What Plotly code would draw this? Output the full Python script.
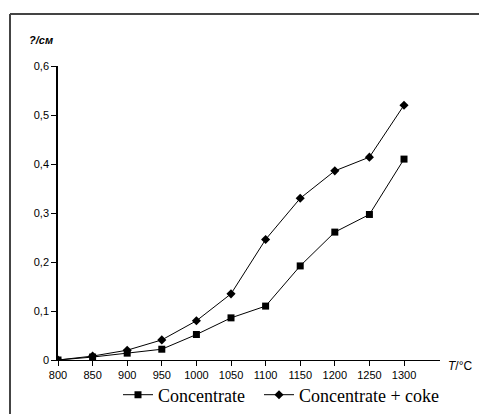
import plotly.graph_objects as go

temps = [800, 850, 900, 950, 1000, 1050, 1100, 1150, 1200, 1250, 1300]
concentrate = [0.0, 0.006, 0.014, 0.022, 0.052, 0.086, 0.11, 0.192, 0.261, 0.297, 0.41]
concentrate_coke = [0.0, 0.008, 0.02, 0.041, 0.08, 0.135, 0.246, 0.33, 0.386, 0.414, 0.52]
y_ticks = [0, 0.1, 0.2, 0.3, 0.4, 0.5, 0.6]
y_ticktext = ["0", "0,1", "0,2", "0,3", "0,4", "0,5", "0,6"]
x_ticks = [800, 850, 900, 950, 1000, 1050, 1100, 1150, 1200, 1250, 1300]

fig = go.Figure()
fig.add_trace(go.Scatter(
    x=temps, y=concentrate, name="Concentrate", mode="lines+markers",
    line=dict(color="black", width=1),
    marker=dict(symbol="square", size=7, color="black"),
    legend="legend",
))
fig.add_trace(go.Scatter(
    x=temps, y=concentrate_coke, name="Concentrate + coke", mode="lines+markers",
    line=dict(color="black", width=1),
    marker=dict(symbol="diamond", size=7, color="black"),
    legend="legend2",
))

# body margin is removed by the post script, so figure pixels = window pixels
W, H = 479, 414
PL, PR, PT, PB = 58, 440, 66, 360  # plot area in window pixels
ml, mr, mt, mb = PL, W - PR, PT, H - PB
pw, ph = W - ml - mr, H - mt - mb

def px(x):
    return (x - ml) / pw

def py(y):
    return (H - mb - y) / ph

tick_font = dict(family="Liberation Sans Narrow, Liberation Sans", size=11, color="black")
legend_common = dict(
    orientation="h", xref="container", yref="container",
    y=1 - 395 / H, xanchor="left", yanchor="middle",
    font=dict(family="Liberation Serif", size=18, color="black"),
    bgcolor="rgba(0,0,0,0)", itemwidth=30,
)

fig.update_layout(
    width=W, height=H,
    margin=dict(l=ml, r=mr, t=mt, b=mb, pad=0, autoexpand=False),
    paper_bgcolor="white", plot_bgcolor="white",
    showlegend=True,
    modebar=dict(bgcolor="rgba(0,0,0,0)", color="rgba(0,0,0,0)",
                 activecolor="rgba(0,0,0,0)"),
    legend=dict(x=118 / W, **legend_common),
    legend2=dict(x=259 / W, **legend_common),
    xaxis=dict(
        range=[800, 1352], tickvals=x_ticks, ticks="outside", ticklen=5,
        tickcolor="black", showline=True, linecolor="black", linewidth=1,
        showgrid=False, zeroline=False, tickfont=tick_font,
    ),
    yaxis=dict(
        range=[0, 0.6], tickvals=y_ticks, ticktext=y_ticktext, ticks="outside",
        ticklen=5, tickcolor="black", showline=True, linecolor="black",
        linewidth=1.5, showgrid=False, zeroline=False, tickfont=tick_font,
    ),
    shapes=[
        dict(type="line", xref="paper", yref="paper",
             x0=px(10), y0=py(14), x1=px(490), y1=py(14),
             line=dict(color="#444", width=2)),
        dict(type="line", xref="paper", yref="paper",
             x0=px(10), y0=py(14), x1=px(10), y1=py(430),
             line=dict(color="#444", width=2)),
    ],
    annotations=[
        dict(text="<i><b>?/см</b></i>", xref="paper", yref="paper", x=px(27), y=py(40),
             xanchor="left", yanchor="middle", showarrow=False,
             font=dict(family="Liberation Sans", size=11, color="black")),
        dict(text="<i>T</i>/°C", xref="paper", yref="paper", x=px(446), y=py(366),
             xanchor="left", yanchor="middle", showarrow=False,
             font=dict(family="Liberation Sans", size=12, color="black")),
    ],
)

fig.write_html(
    "out.html",
    config={"displaylogo": False},
    post_script="document.body.style.margin='0';document.body.style.overflow='hidden';",
)
